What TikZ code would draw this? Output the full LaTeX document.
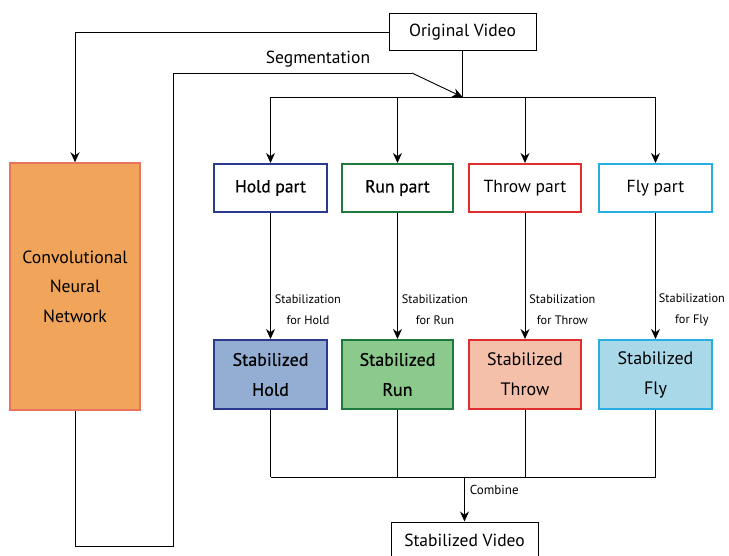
\documentclass[tikz,border=0pt]{standalone}
\usepackage{fontspec}
\setmainfont{PT Sans}
\newfontfamily\semib[FakeBold=0.6]{PT Sans}
\usetikzlibrary{arrows.meta}
\definecolor{holdB}{HTML}{2B3A8C}
\definecolor{holdF}{HTML}{93AED2}
\definecolor{runB}{HTML}{1E7A3C}
\definecolor{runF}{HTML}{8CC98C}
\definecolor{throwB}{HTML}{E02E2E}
\definecolor{throwF}{HTML}{F4C0AA}
\definecolor{flyB}{HTML}{2AAEE2}
\definecolor{flyF}{HTML}{A9D8E8}
\definecolor{cnnF}{HTML}{F0A55A}
\definecolor{cnnB}{HTML}{EA735E}
\begin{document}
\begin{tikzpicture}[x=1pt,y=-1pt,
  conn/.style={line width=0.9pt},
  arr/.style={line width=0.9pt,-{Stealth[length=10pt,width=9pt]}},
  plainbox/.style={draw,line width=1pt,fill=white,inner sep=0pt,font=\fontsize{17.5}{20}\selectfont},
  partbox/.style={draw,line width=2pt,fill=white,inner sep=0pt,minimum height=48pt,font=\fontsize{17.5}{20}\selectfont},
  stabbox/.style={draw,line width=2pt,inner sep=0pt,minimum height=69pt,align=center,font=\fontsize{18}{30}\selectfont},
  small/.style={font=\fontsize{12.3}{21}\selectfont,align=center,inner sep=0pt}]
\useasboundingbox (0,0) rectangle (729,555);
% nodes
\node[plainbox,minimum width=147pt,minimum height=37pt] (orig) at (462.5,32) {Original Video};
\node[draw=cnnB,fill=cnnF,line width=1.5pt,minimum width=130pt,minimum height=247pt,inner sep=0pt,align=center,font=\fontsize{17.7}{29.5}\selectfont] (cnn) at (75,286.5) {Convolutional\\Neural\\Network};
\node[partbox,draw=holdB,minimum width=113pt] (hp) at (270.5,188) {\semib Hold part};
\node[partbox,draw=runB,minimum width=111pt] (rp) at (397.5,188) {\semib Run part};
\node[partbox,draw=throwB,minimum width=112pt] (tp) at (525,188) {Throw part};
\node[partbox,draw=flyB,minimum width=113pt] (fp) at (655.5,188) {Fly part};
\node[stabbox,draw=holdB,fill=holdF,minimum width=113pt] (hs) at (270.5,374.5) {\semib Stabilized\\\semib Hold};
\node[stabbox,draw=runB,fill=runF,minimum width=111pt] (rs) at (397.5,374.5) {\semib Stabilized\\\semib Run};
\node[stabbox,draw=throwB,fill=throwF,minimum width=112pt] (ts) at (525,374.5) {Stabilized\\Throw};
\node[stabbox,draw=flyB,fill=flyF,minimum width=113pt] (fs) at (655.5,374.5) {Stabilized\\Fly};
\node[plainbox,minimum width=147pt,minimum height=36pt] (sv) at (464.5,540) {Stabilized Video};
% coordinates
\coordinate (junc) at (462.5,97);
\coordinate (c1) at (75,546);
\coordinate (c2) at (173,546);
\coordinate (c3) at (173,73);
\coordinate (c4) at (412,73);
\coordinate (tb1) at (270.5,97);
\coordinate (tb2) at (655.5,97);
\coordinate (bb1) at (270.5,477);
\coordinate (bb2) at (655.5,477);
\coordinate (bj) at (464.5,477);
% connectors
\draw[arr] (orig.west) -| (cnn.north);
\draw[conn] (cnn.south) -- (c1) -- (c2) -- (c3) -- (c4);
\draw[arr] (c4) -- (junc);
\node[font=\fontsize{17.5}{20}\selectfont,inner sep=0pt] (seg) at (318,59) {Segmentation};
\draw[conn] (orig.south) -- (junc);
\draw[conn] (tb1) -- (tb2);
\foreach \p in {hp,rp,tp,fp} {
  \draw[arr] (tb1 -| \p.north) -- (\p.north);
}
\draw[arr] (hp.south) -- (hs.north) node[small,pos=0.77,right=4pt] (l1) {Stabilization\\for Hold};
\draw[arr] (rp.south) -- (rs.north) node[small,pos=0.77,right=4pt] (l2) {Stabilization\\for Run};
\draw[arr] (tp.south) -- (ts.north) node[small,pos=0.77,right=4pt] (l3) {Stabilization\\for Throw};
\draw[arr] (fp.south) -- (fs.north) node[small,pos=0.77,right=3pt] (l4) {Stabilization\\for Fly};
\foreach \p in {hs,rs,ts,fs} {
  \draw[conn] (\p.south) -- (bb1 -| \p.south);
}
\draw[conn] (bb1) -- (bb2);
\draw[arr] (bj) -- (sv.north) node[small,font=\fontsize{13}{15}\selectfont,pos=0.28,right=5pt] (lc) {Combine};
\end{tikzpicture}
\end{document}
